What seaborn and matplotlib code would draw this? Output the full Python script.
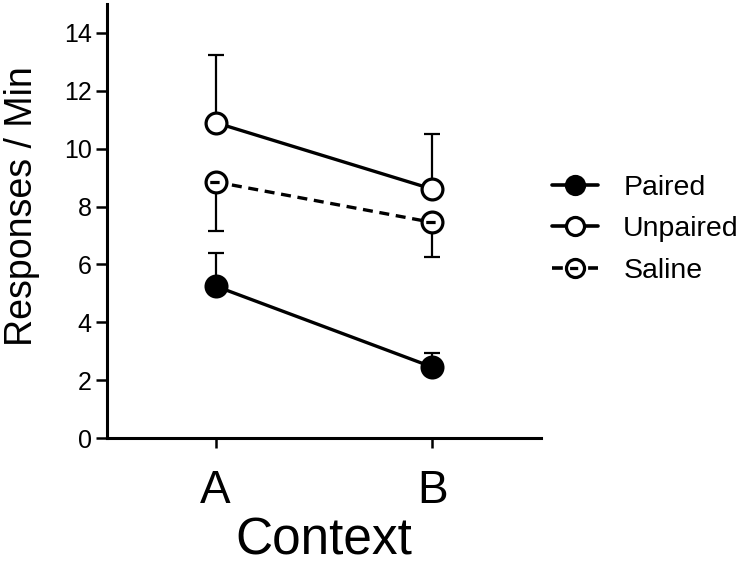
import numpy as np
import pandas as pd
import seaborn as sns
import matplotlib.pyplot as plt
from matplotlib.path import Path
from matplotlib.lines import Line2D

# datos
contextos = ['A', 'B']
grupos = ['Paired', 'Unpaired', 'Saline']
paired = [5.25, 2.45]
paired_err = [1.15, 0.5]
unpaired = [10.9, 8.6]
unpaired_err = [2.35, 1.9]
saline = [8.85, 7.45]
saline_err = [1.7, 1.2]

sns.set_style('ticks')
plt.rcParams['font.family'] = ['Liberation Sans', 'DejaVu Sans']
for k in ['text.color', 'axes.labelcolor', 'xtick.color', 'ytick.color', 'axes.edgecolor']:
    plt.rcParams[k] = 'black'

df = pd.DataFrame({
    'Context': contextos * 3,
    'Responses': paired + unpaired + saline,
    'Error': paired_err + unpaired_err + saline_err,
    'Group': np.repeat(grupos, 2),
})

# marcador de saline: circulo con una raya dentro
saline_marker = Path.make_compound_path(
    Path.unit_circle(),
    Path([[-0.6, 0.0], [0.3, 0.0]], [Path.MOVETO, Path.LINETO]))

estilos = {
    'Paired': dict(marker='o', mfc='black', ls='-', err='up'),
    'Unpaired': dict(marker='o', mfc='white', ls='-', err='up'),
    'Saline': dict(marker=saline_marker, mfc='white', ls=(0, (3, 2)), err='down'),
}

fig = plt.figure(figsize=(7.5, 5.66), dpi=100)
ax = fig.add_axes([0.1427, 0.2261, 0.5786, 0.7669])

handles = []
for g in grupos:
    d = df[df['Group'] == g]
    st = estilos[g]
    sns.lineplot(data=d, x='Context', y='Responses', ax=ax, color='black',
                 lw=2.4, linestyle=st['ls'], marker=st['marker'], markersize=15,
                 mfc=st['mfc'], mec='black', mew=2.3, zorder=3)
    if st['err'] == 'up':
        yerr = [np.zeros(len(d)), d['Error'].values]
    else:
        yerr = [d['Error'].values, np.zeros(len(d))]
    ax.errorbar(d['Context'], d['Responses'], yerr=yerr, fmt='none',
                ecolor='black', elinewidth=1.6, capsize=6, capthick=1.6, zorder=1)
    handles.append(Line2D([], [], color='black', lw=2.6, linestyle=st['ls'],
                          marker=st['marker'], markersize=13, mfc=st['mfc'],
                          mec='black', mew=2.3))

ax.set_xlim(-0.5, 1.5)
ax.set_ylim(0, 15)
ax.set_yticks(np.arange(0, 15, 2))
sns.despine(ax=ax)
for s in ['left', 'bottom']:
    ax.spines[s].set_linewidth(2.2)
ax.tick_params(axis='y', length=8, width=1.8, labelsize=18, pad=3)
ax.tick_params(axis='x', length=7, width=1.8, labelsize=33, pad=15)
ax.set_xlabel('Context', fontsize=37, labelpad=3)
ax.set_ylabel('Responses / Min', fontsize=27)
ax.yaxis.set_label_coords(-0.155, 0.535)

fig.legend(handles, grupos, loc='center left', bbox_to_anchor=(0.736, 0.595),
           frameon=False, fontsize=20.5, handlelength=1.6, handletextpad=0.9,
           labelspacing=0.55, borderpad=0, borderaxespad=0)

plt.savefig('out.png', dpi=100)
